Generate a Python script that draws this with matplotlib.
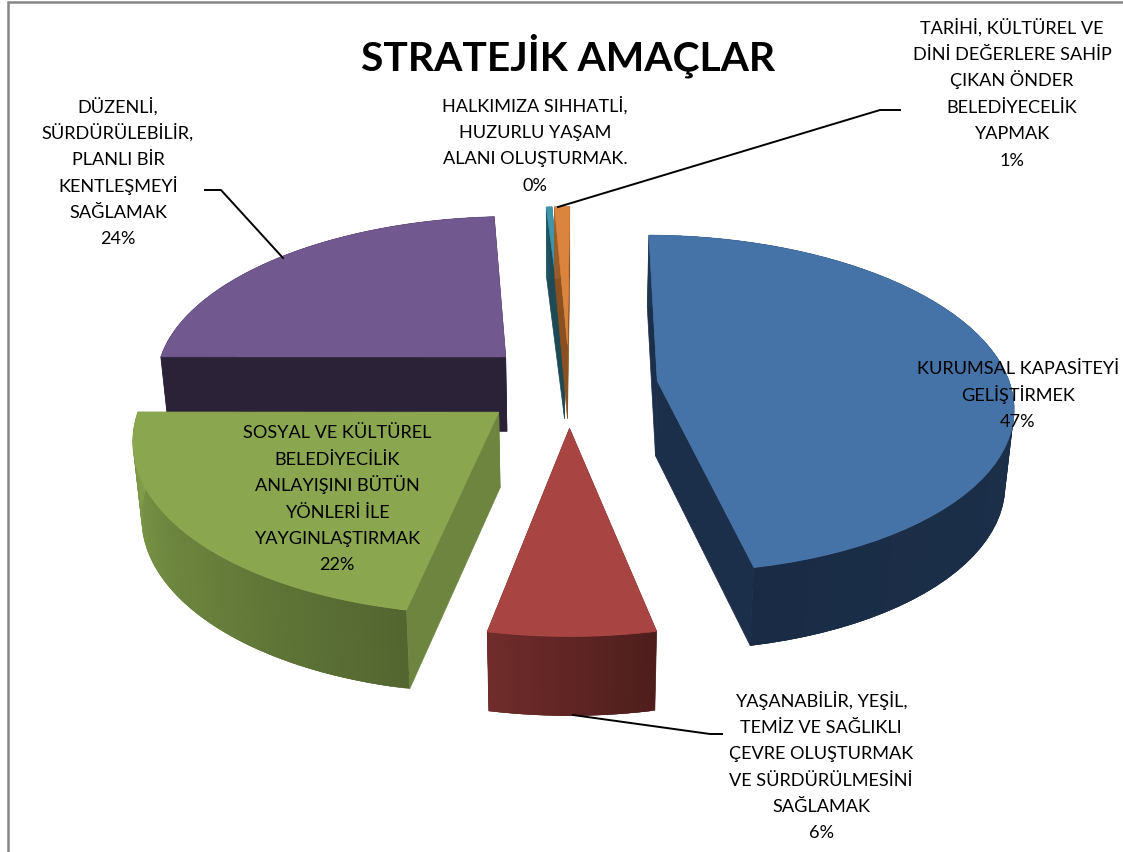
import numpy as np
import matplotlib
matplotlib.use("Agg")
import matplotlib.pyplot as plt
from matplotlib.patches import Polygon
from matplotlib.colors import to_rgb

# ---- data ----
title = "STRATEJİK AMAÇLAR"
categories = [
    "KURUMSAL KAPASİTEYİ\nGELİŞTİRMEK",
    "YAŞANABİLİR, YEŞİL,\nTEMİZ VE SAĞLIKLI\nÇEVRE OLUŞTURMAK\nVE SÜRDÜRÜLMESİNİ\nSAĞLAMAK",
    "SOSYAL VE KÜLTÜREL\nBELEDİYECİLİK\nANLAYIŞINI BÜTÜN\nYÖNLERİ İLE\nYAYGINLAŞTIRMAK",
    "DÜZENLİ,\nSÜRDÜRÜLEBİLİR,\nPLANLI BİR\nKENTLEŞMEYİ\nSAĞLAMAK",
    "HALKIMIZA SIHHATLİ,\nHUZURLU YAŞAM\nALANI OLUŞTURMAK.",
    "TARİHİ, KÜLTÜREL VE\nDİNİ DEĞERLERE SAHİP\nÇIKAN ÖNDER\nBELEDİYECELİK\nYAPMAK",
]
values = [46.6, 6.4, 21.9, 24.0, 0.3, 0.8]

# ---- styles ----
top_colors = ["#4572A7", "#A84543", "#8AA64E", "#71588F", "#3F95AA", "#DB843D"]
side_colors = ["#1B2F4A", "#5D2A28", "#6E8540", "#2C2238", "#1D4A55", "#8A5020"]
wall_from = ["#1E3552", "#702C2B", "#82A04A", "#2C2238", "#245A68", "#A0602A"]
wall_to = ["#1A2C45", "#4E1E1C", "#536630", "#2C2238", "#1D4A55", "#8A5020"]
label_first_line = [(1018, 368), (821, 700), (337, 432), (118, 106), (535, 105), (1012, 27)]
LINE_PITCH = 26.4
leaders = [
    [(900, 110), (880, 110), (558, 207)],
    [(205, 190), (221, 190), (283, 258)],
    [(573, 715), (710, 734), (722, 734)],
]
FONT = "Lato"
CX, CY = 569, 385
R, EXPLODE, DEPTH = 353, 89, 75
S, K = 0.472, 0.136
SHRINK = 0.98


def project(x, y, bottom=False):
    """World disk coordinates (y toward viewer) -> pixel position."""
    x, y = np.asarray(x, float), np.asarray(y, float)
    f = 1 / (1 - K * y / R)
    px, py = x * f, S * y * f
    if bottom:
        px = px * SHRINK
        py = py + DEPTH * f ** 0.3
    return CX + px, CY + py


fig = plt.figure(figsize=(11.23, 8.52), dpi=100, facecolor="white")
ax = fig.add_axes([0, 0, 1, 1])
ax.set_xlim(0, 1123)
ax.set_ylim(852, 0)
ax.axis("off")

ax.plot([8, 8, 1123], [852, 2, 2], color="#868686", lw=1.8, solid_joinstyle="miter", zorder=1)

shares = np.array(values) / sum(values) * 360
ends = np.cumsum(shares) + 0.4
starts = ends - shares
draw_order = [3, 4, 5, 0, 1, 2]
z = 2
for i in draw_order:
    a0, a1 = np.radians(starts[i]), np.radians(ends[i])
    mid = (a0 + a1) / 2
    ox, oy = EXPLODE * np.sin(mid), -EXPLODE * np.cos(mid)
    th = np.linspace(a0, a1, 61)
    xs, ys = ox + R * np.sin(th), oy - R * np.cos(th)
    tx, ty = project(xs, ys)
    bx, by = project(xs, ys, bottom=True)
    ax0, ay0 = project(ox, oy)
    bx0, by0 = project(ox, oy, bottom=True)
    # radial faces
    for k in (0, -1):
        face = [(ax0, ay0), (tx[k], ty[k]), (bx[k], by[k]), (bx0, by0)]
        ax.add_patch(Polygon(face, closed=True, fc=side_colors[i], ec=side_colors[i], lw=0.5, zorder=z))
    z += 1
    # outer wall: gradient, each strip overlapping the next so no seams show
    c0, c1 = np.array(to_rgb(wall_from[i])), np.array(to_rgb(wall_to[i]))
    if i == 2 or i == 1:
        c0, c1 = c1, c0
    n = len(th) - 1
    for j in range(n):
        t = j / (n - 1)
        col = c0 + (c1 - c0) * t
        e = min(j + 3, n)
        quad = np.r_[np.column_stack([tx[j:e + 1], ty[j:e + 1]]),
                     np.column_stack([bx[j:e + 1], by[j:e + 1]])[::-1]]
        ax.add_patch(Polygon(quad, closed=True, fc=col, ec="none", lw=0, zorder=z))
        z += 0.001
    z += 1
    # top face
    top = np.column_stack([np.r_[ax0, tx], np.r_[ay0, ty]])
    ax.add_patch(Polygon(top, closed=True, fc=top_colors[i], ec=top_colors[i], lw=0.5, zorder=z))
    z += 1

for pts in leaders:
    p = np.array(pts)
    ax.plot(p[:, 0], p[:, 1], color="black", lw=1.4, zorder=z)
z += 1

for name, v, (lx, ly) in zip(categories, values, label_first_line):
    lines = f"{name}\n{round(v)}%".split("\n")
    for n_line, line in enumerate(lines):
        ax.text(lx, ly + 6.5 + n_line * LINE_PITCH, line, ha="center", va="baseline",
                family=FONT, fontsize=13.1, color="black", zorder=z)

ax.text(568, 71, title, ha="center", va="baseline", family=FONT, fontsize=29.3, fontweight="bold",
        color="black", zorder=z)

fig.savefig("out.png", dpi=100)
